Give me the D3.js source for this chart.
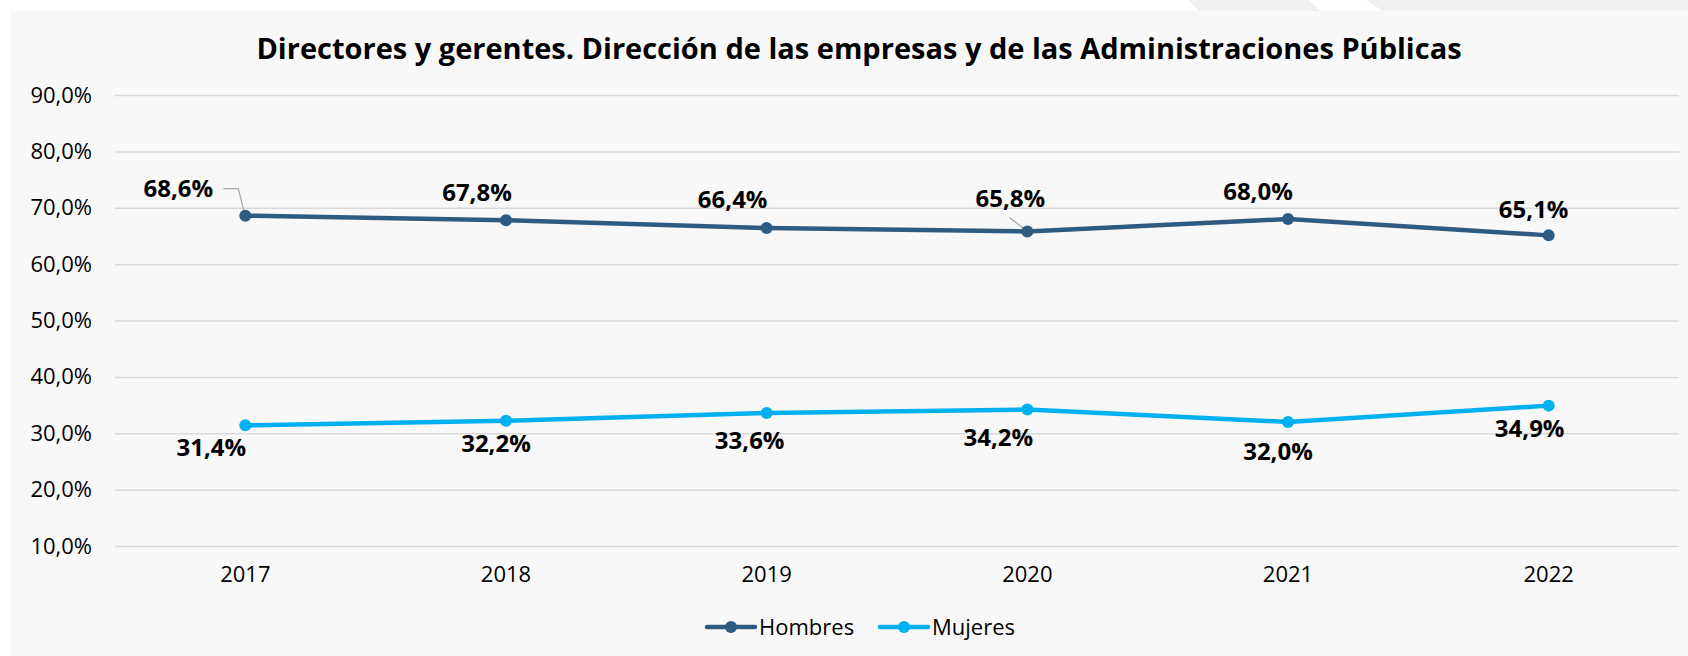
<!DOCTYPE html>
<html>
<head>
<meta charset="utf-8">
<script src="https://cdn.jsdelivr.net/npm/d3@7"></script>
<style>
  body { margin: 0; background: #fff; }
  svg { display: block; font-family: "Open Sans", "Noto Sans", sans-serif; }
</style>
</head>
<body>
<script>
// data
var years = ["2017", "2018", "2019", "2020", "2021", "2022"];
var hombres = [68.6, 67.8, 66.4, 65.8, 68.0, 65.1];
var mujeres = [31.4, 32.2, 33.6, 34.2, 32.0, 34.9];
var yTicks = [10, 20, 30, 40, 50, 60, 70, 80, 90];
var seriesNames = ["Hombres", "Mujeres"];

// label placement (offset from the point, px)
var hombresLabelDx = [-67, -29, -34, -17, -30, -15];
var hombresLabelDy = [-19, -19, -20, -24, -19, -17];
var mujeresLabelDx = [-34, -10, -17, -29, -10, -19];
var mujeresLabelDy = [31, 31, 36, 36, 38, 31];

var W = 1688, H = 656;
var colors = {Hombres: "#2E5B82", Mujeres: "#00B0F0"};
var fmt = function(v) { return v.toFixed(1).replace(".", ",") + "%"; };

var svg = d3.select("body").append("svg")
  .attr("width", W)
  .attr("height", H);

// top decoration
svg.append("polygon")
  .attr("points", "1188,0 1308,0 1321,11 1199,11")
  .attr("fill", "#f0f0f0");
svg.append("polygon")
  .attr("points", "1366,0 1688,0 1688,11 1383,11")
  .attr("fill", "#f0f0f0");

// panel
svg.append("rect")
  .attr("x", 11).attr("y", 11)
  .attr("width", W - 11).attr("height", H - 11)
  .attr("fill", "#f8f8f8");

svg.append("text")
  .attr("x", 859)
  .attr("y", 59)
  .attr("text-anchor", "middle")
  .attr("font-size", "29px")
  .attr("font-weight", "bold")
  .attr("fill", "#000")
  .text("Directores y gerentes. Dirección de las empresas y de las Administraciones Públicas");

var x = d3.scaleBand()
  .domain(years)
  .range([115, 1679]);

var y = d3.scaleLinear()
  .domain([10, 90])
  .range([546, 95]);

var cx = function(i) { return x(years[i]) + x.bandwidth() / 2; };

// grid + y labels
var yAxis = svg.append("g")
  .attr("transform", "translate(115,0)")
  .call(d3.axisLeft(y)
    .tickValues(yTicks)
    .tickSize(-(1679 - 115))
    .tickPadding(23)
    .tickFormat(fmt));
yAxis.select(".domain").remove();
yAxis.selectAll(".tick line")
  .attr("stroke", "#d9d9d9")
  .attr("stroke-width", 1.5);
yAxis.selectAll(".tick text")
  .attr("font-size", "22px")
  .attr("font-family", "Open Sans")
  .attr("fill", "#000");

// x labels
var xAxis = svg.append("g")
  .attr("transform", "translate(0,546)")
  .call(d3.axisBottom(x).tickSize(0).tickPadding(20));
xAxis.select(".domain").remove();
xAxis.selectAll(".tick text")
  .attr("font-size", "22px")
  .attr("font-family", "Open Sans")
  .attr("fill", "#000");

var line = d3.line()
  .x(function(d, i) { return cx(i); })
  .y(function(d) { return y(d); });

var series = [
  {name: "Hombres", values: hombres, dx: hombresLabelDx, dy: hombresLabelDy},
  {name: "Mujeres", values: mujeres, dx: mujeresLabelDx, dy: mujeresLabelDy}
];

// leader lines for the two shifted labels
var leaders = [
  {i: 0, pts: [[-22, -27], [-7, -27], [-1, -3]]},
  {i: 3, pts: [[-18, -14], [-2, -2]]}
];
leaders.forEach(function(l) {
  svg.append("polyline")
    .attr("points", l.pts.map(function(p) {
      return (cx(l.i) + p[0]) + "," + (y(hombres[l.i]) + p[1]);
    }).join(" "))
    .attr("fill", "none")
    .attr("stroke", "#a6a6a6")
    .attr("stroke-width", 1.2);
});

series.forEach(function(s) {
  svg.append("path")
    .datum(s.values)
    .attr("d", line)
    .attr("fill", "none")
    .attr("stroke", colors[s.name])
    .attr("stroke-width", 4.5)
    .attr("stroke-linejoin", "round");

  svg.selectAll(".pt-" + s.name)
    .data(s.values)
    .enter()
    .append("circle")
    .attr("cx", function(d, i) { return cx(i); })
    .attr("cy", function(d) { return y(d); })
    .attr("r", 6)
    .attr("fill", colors[s.name]);

  svg.selectAll(".lbl-" + s.name)
    .data(s.values)
    .enter()
    .append("text")
    .attr("x", function(d, i) { return cx(i) + s.dx[i]; })
    .attr("y", function(d, i) { return y(d) + s.dy[i]; })
    .attr("text-anchor", "middle")
    .attr("font-size", "24px")
    .attr("font-weight", "bold")
    .attr("fill", "#000")
    .text(fmt);
});

// legend
var legendX = [707, 880];
seriesNames.forEach(function(name, i) {
  var g = svg.append("g")
    .attr("transform", "translate(" + legendX[i] + ",627)");
  g.append("line")
    .attr("x1", 0).attr("x2", 48)
    .attr("stroke", colors[name])
    .attr("stroke-width", 4.5)
    .attr("stroke-linecap", "round");
  g.append("circle")
    .attr("cx", 24).attr("r", 6)
    .attr("fill", colors[name]);
  g.append("text")
    .attr("x", 52)
    .attr("y", 0)
    .attr("dy", "0.35em")
    .attr("font-size", "22px")
    .attr("fill", "#000")
    .text(name);
});
</script>
</body>
</html>
